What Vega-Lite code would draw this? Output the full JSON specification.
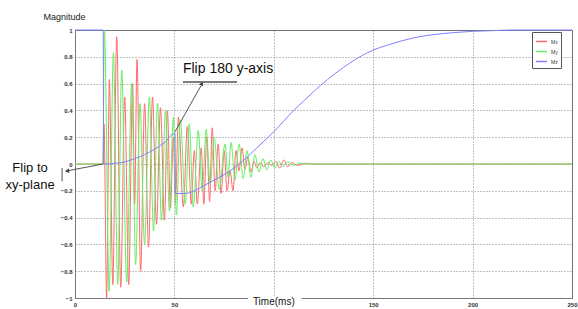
{
  "$schema": "https://vega.github.io/schema/vega-lite/v6.json",
  "autosize": {"type": "none"},
  "width": 497,
  "height": 268,
  "padding": {"left": 75, "top": 30, "right": 6, "bottom": 11},
  "background": "white",
  "config": {
    "font": "Liberation Sans",
    "view": {"stroke": "#777", "strokeWidth": 1},
    "axis": {
      "gridDash": [1, 2],
      "gridColor": "#666",
      "gridOpacity": 1,
      "gridWidth": 0.8,
      "domainColor": "#777",
      "ticks": false,
      "labelFontSize": 6,
      "labelFontWeight": "bold",
      "labelColor": "#333",
      "labelPadding": 3,
      "labelOverlap": false
    }
  },
  "encoding": {
    "x": {
      "field": "t", "type": "quantitative",
      "scale": {"domain": [0, 250], "nice": false, "zero": false},
      "axis": {"values": [0, 50, 100, 150, 200, 250], "title": null, "grid": true, "labelFlush": false,
               "labelOverlap": false,
               "labelExpr": "datum.value == 100 ? '' : datum.label"}
    },
    "y": {
      "field": "v", "type": "quantitative",
      "scale": {"domain": [-1, 1], "nice": false, "zero": false},
      "axis": {
        "values": [-1, -0.8, -0.6, -0.4, -0.2, 0, 0.2, 0.4, 0.6, 0.8, 1],
        "format": "~g",
        "labelFlush": false,
        "labelOverlap": false,
        "labelBound": false,
        "title": "Magnitude",
        "titleAngle": 0,
        "titleAlign": "left",
        "titleBaseline": "middle",
        "titleX": -32,
        "titleY": -14,
        "titleFontSize": 9,
        "titleFontWeight": "normal",
        "titleColor": "#222"
      }
    }
  },
  "layer": [
    {
      "data": {
        "values": [
          {"s":"Mx","t":0,"v":0},{"s":"Mx","t":14,"v":0},{"s":"Mx","t":14.6,"v":0.3},{"s":"Mx","t":15.9,"v":-1},{"s":"Mx","t":17.3,"v":0.63},{"s":"Mx","t":19,"v":-0.9},{"s":"Mx","t":21,"v":0.95},{"s":"Mx","t":23,"v":-0.92},{"s":"Mx","t":25,"v":0.5},{"s":"Mx","t":27,"v":-0.9},{"s":"Mx","t":29,"v":0.6},{"s":"Mx","t":30,"v":-0.3},{"s":"Mx","t":31.2,"v":0.78},{"s":"Mx","t":33,"v":-0.8},{"s":"Mx","t":35,"v":0.45},{"s":"Mx","t":37,"v":-0.62},{"s":"Mx","t":39,"v":0.5},{"s":"Mx","t":41,"v":-0.45},{"s":"Mx","t":43,"v":0.42},{"s":"Mx","t":45,"v":-0.42},{"s":"Mx","t":46.5,"v":0.4},{"s":"Mx","t":48,"v":-0.33},{"s":"Mx","t":49.5,"v":0.2},{"s":"Mx","t":50.5,"v":-0.3},{"s":"Mx","t":52,"v":0.35},{"s":"Mx","t":54.5,"v":-0.32},{"s":"Mx","t":56.5,"v":0.28},{"s":"Mx","t":58.5,"v":-0.3},{"s":"Mx","t":60,"v":0.1},{"s":"Mx","t":61.5,"v":-0.3},{"s":"Mx","t":63.5,"v":0.12},{"s":"Mx","t":64.8,"v":-0.3},{"s":"Mx","t":66.3,"v":0.2},{"s":"Mx","t":67.7,"v":-0.28},{"s":"Mx","t":69,"v":0.27},{"s":"Mx","t":70.5,"v":-0.2},{"s":"Mx","t":72,"v":0.15},{"s":"Mx","t":73.5,"v":-0.22},{"s":"Mx","t":75,"v":0.1},{"s":"Mx","t":76.5,"v":-0.2},{"s":"Mx","t":78,"v":-0.05},{"s":"Mx","t":79.5,"v":-0.2},{"s":"Mx","t":81,"v":0.1},{"s":"Mx","t":82.5,"v":-0.05},{"s":"Mx","t":84,"v":0.12},{"s":"Mx","t":85.5,"v":-0.04},{"s":"Mx","t":87,"v":0.05},{"s":"Mx","t":88.5,"v":-0.06},{"s":"Mx","t":90,"v":0.02},{"s":"Mx","t":91.5,"v":-0.03},{"s":"Mx","t":93,"v":0.01},{"s":"Mx","t":95,"v":-0.02},{"s":"Mx","t":97,"v":0.01},{"s":"Mx","t":99,"v":-0.01},{"s":"Mx","t":101,"v":0.02},{"s":"Mx","t":103,"v":-0.03},{"s":"Mx","t":105,"v":0.03},{"s":"Mx","t":107,"v":-0.02},{"s":"Mx","t":109,"v":0.01},{"s":"Mx","t":112,"v":-0.01},{"s":"Mx","t":116,"v":0.005},{"s":"Mx","t":120,"v":0},{"s":"Mx","t":250,"v":0},
          {"s":"My","t":0,"v":0},{"s":"My","t":14,"v":0},{"s":"My","t":14.8,"v":1},{"s":"My","t":17.2,"v":-0.95},{"s":"My","t":19.3,"v":0.83},{"s":"My","t":21.5,"v":-0.9},{"s":"My","t":23.5,"v":0.7},{"s":"My","t":26,"v":-0.88},{"s":"My","t":28.5,"v":0.6},{"s":"My","t":30.5,"v":-0.75},{"s":"My","t":32.7,"v":0.45},{"s":"My","t":35,"v":-0.6},{"s":"My","t":37.4,"v":0.5},{"s":"My","t":39.5,"v":-0.5},{"s":"My","t":41.5,"v":0.45},{"s":"My","t":43.5,"v":-0.42},{"s":"My","t":45.5,"v":0.4},{"s":"My","t":47.5,"v":-0.35},{"s":"My","t":49.5,"v":0.35},{"s":"My","t":51,"v":-0.38},{"s":"My","t":53,"v":0.33},{"s":"My","t":55.5,"v":-0.3},{"s":"My","t":57.5,"v":0.3},{"s":"My","t":59.5,"v":-0.32},{"s":"My","t":62,"v":0.25},{"s":"My","t":64,"v":-0.2},{"s":"My","t":66,"v":0.26},{"s":"My","t":68,"v":-0.15},{"s":"My","t":70,"v":0.2},{"s":"My","t":72.5,"v":-0.19},{"s":"My","t":75.5,"v":0.15},{"s":"My","t":77,"v":-0.1},{"s":"My","t":78.5,"v":0.16},{"s":"My","t":80.5,"v":-0.12},{"s":"My","t":82.5,"v":0.15},{"s":"My","t":84.6,"v":-0.11},{"s":"My","t":86.5,"v":0.1},{"s":"My","t":88.5,"v":-0.1},{"s":"My","t":90.5,"v":0.07},{"s":"My","t":92.5,"v":-0.06},{"s":"My","t":94.5,"v":0.04},{"s":"My","t":96.5,"v":-0.045},{"s":"My","t":98.5,"v":0.03},{"s":"My","t":100.5,"v":-0.03},{"s":"My","t":102.5,"v":0.02},{"s":"My","t":104.5,"v":-0.02},{"s":"My","t":107,"v":0.015},{"s":"My","t":110,"v":-0.01},{"s":"My","t":113,"v":0.005},{"s":"My","t":118,"v":0},{"s":"My","t":250,"v":0},
          {"s":"Mz","t":0,"v":1},{"s":"Mz","t":14.2,"v":1},{"s":"Mz","t":14.4,"v":0},{"s":"Mz","t":20,"v":0.005},{"s":"Mz","t":25,"v":0.015},{"s":"Mz","t":30,"v":0.04},{"s":"Mz","t":35,"v":0.07},{"s":"Mz","t":40,"v":0.11},{"s":"Mz","t":45,"v":0.16},{"s":"Mz","t":50.3,"v":0.23},{"s":"Mz","t":50.5,"v":-0.22},{"s":"Mz","t":55,"v":-0.22},{"s":"Mz","t":60,"v":-0.2},{"s":"Mz","t":65,"v":-0.16},{"s":"Mz","t":70,"v":-0.12},{"s":"Mz","t":75,"v":-0.08},{"s":"Mz","t":80,"v":-0.03},{"s":"Mz","t":85,"v":0.03},{"s":"Mz","t":90,"v":0.1},{"s":"Mz","t":95,"v":0.17},{"s":"Mz","t":100,"v":0.24},{"s":"Mz","t":105,"v":0.32},{"s":"Mz","t":110,"v":0.4},{"s":"Mz","t":115,"v":0.47},{"s":"Mz","t":120,"v":0.54},{"s":"Mz","t":127,"v":0.63},{"s":"Mz","t":135,"v":0.72},{"s":"Mz","t":147,"v":0.83},{"s":"Mz","t":160,"v":0.9},{"s":"Mz","t":170,"v":0.94},{"s":"Mz","t":180,"v":0.965},{"s":"Mz","t":190,"v":0.98},{"s":"Mz","t":200,"v":0.99},{"s":"Mz","t":210,"v":0.995},{"s":"Mz","t":220,"v":1},{"s":"Mz","t":250,"v":1}
        ]
      },
      "mark": {"type": "line", "interpolate": "monotone", "strokeWidth": 1},
      "encoding": {
        "color": {
          "field": "s", "type": "nominal",
          "scale": {"domain": ["Mx", "My", "Mz"], "range": ["#ff6b6b", "#66ee66", "#8080ff"]},
          "legend": {
            "orient": "none", "legendX": 457, "legendY": 2, "title": null,
            "symbolType": "stroke", "symbolSize": 120, "symbolStrokeWidth": 1.5,
            "labelFontSize": 5, "labelColor": "#333", "labelOffset": 3,
            "strokeColor": "#555", "fillColor": "white", "padding": 3, "rowPadding": 0
          }
        },
        "order": {"field": "s"}
      }
    },
    {
      "data": {"values": [{"t": 87, "t2": 114, "v": -0.995, "v2": -1.2}]},
      "mark": {"type": "rect", "color": "white"},
      "encoding": {
        "x2": {"field": "t2"},
        "y2": {"field": "v2"}
      }
    },
    {
      "data": {"values": [
        {"t": 100, "v": -1.03, "txt": "Time(ms)", "size": 10},
        {"t": 77, "v": 0.71, "txt": "Flip 180 y-axis", "size": 14},
        {"t": -22.6, "v": -0.03, "txt": "Flip to", "size": 13},
        {"t": -22.6, "v": -0.157, "txt": "xy-plane", "size": 13}
      ]},
      "mark": {"type": "text", "baseline": "middle", "align": "center", "color": "#111"},
      "encoding": {
        "text": {"field": "txt"},
        "size": {"field": "size", "type": "quantitative", "scale": null}
      }
    },
    {
      "data": {"values": [
        {"t": 54.3, "v": 0.612, "t2": 81.5, "v2": 0.612, "w": 1.6},
        {"t": 50.3, "v": 0.24, "t2": 63.4, "v2": 0.585, "w": 1},
        {"t": 14.1, "v": 0, "t2": -3.5, "v2": -0.05, "w": 1},
        {"t": -6.5, "v": -0.03, "t2": -6.5, "v2": -0.13, "w": 1}
      ]},
      "mark": {"type": "rule", "color": "#555"},
      "encoding": {
        "x2": {"field": "t2"},
        "y2": {"field": "v2"},
        "strokeWidth": {"field": "w", "type": "quantitative", "scale": null}
      }
    },
    {
      "data": {"values": [
        {"t": 63.9, "v": 0.6, "shape": "triangle-up", "ang": 29},
        {"t": -4, "v": -0.052, "shape": "triangle-left", "ang": -10}
      ]},
      "mark": {"type": "point", "filled": true, "color": "#444", "size": 22, "opacity": 1},
      "encoding": {
        "shape": {"field": "shape", "type": "nominal", "scale": null},
        "angle": {"field": "ang", "type": "quantitative", "scale": null}
      }
    }
  ]
}
